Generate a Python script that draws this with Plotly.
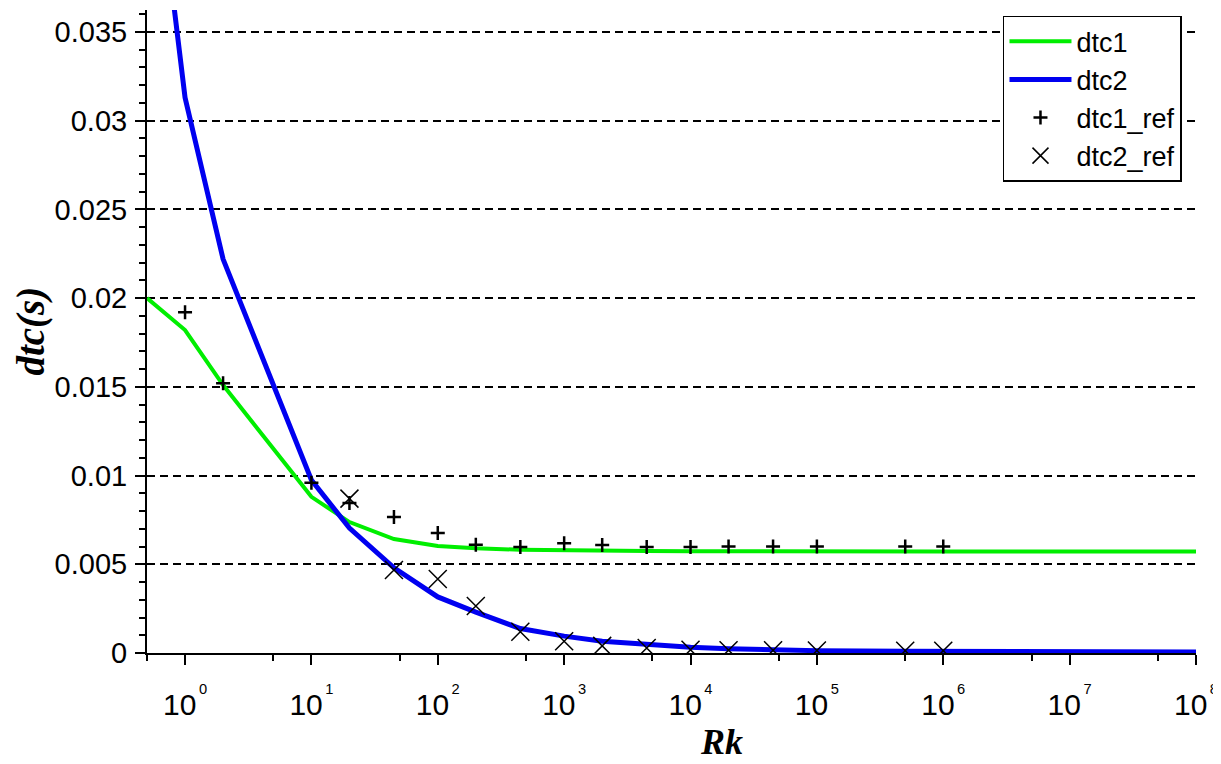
import plotly.graph_objects as go

# ---- data ----
rk_model = [0.5, 1, 2, 10, 20, 45, 100, 200, 450, 1000, 2000, 4500,
            1e4, 2e4, 4.5e4, 1e5, 5e5, 1e6, 1e7, 1e8]
dtc1 = [0.0200, 0.0182, 0.0151, 0.0088, 0.00738, 0.00642, 0.00603, 0.00590,
        0.00582, 0.00578, 0.00576, 0.00575, 0.00574, 0.00573, 0.00573,
        0.00572, 0.00572, 0.00572, 0.00572, 0.00572]
dtc2 = [0.049, 0.0313, 0.0222, 0.00975, 0.00704, 0.0048, 0.00316, 0.0023,
        0.00138, 0.00095, 0.00066, 0.00046, 0.00033, 0.00024, 0.00018,
        0.00013, 0.0001, 0.00009, 0.00007, 0.00006]

rk_ref1 = [1, 2, 10, 20, 45, 100, 200, 450, 1000, 2000, 4500,
           1e4, 2e4, 4.5e4, 1e5, 5e5, 1e6]
dtc1_ref = [0.0192, 0.0152, 0.0096, 0.00845, 0.00767, 0.00676, 0.0061,
            0.00597, 0.00618, 0.00609, 0.00597, 0.00597, 0.006, 0.006,
            0.006, 0.006, 0.006]

rk_ref2 = [20, 45, 100, 200, 450, 1000, 2000, 4500,
           1e4, 2e4, 4.5e4, 1e5, 5e5, 1e6]
dtc2_ref = [0.0087, 0.00468, 0.00417, 0.00265, 0.0012, 0.00066, 0.0004,
            0.00028, 0.00018, 0.00016, 0.00015, 0.00014, 0.00013, 0.00013]

x_tick_vals = [1, 10, 100, 1e3, 1e4, 1e5, 1e6, 1e7, 1e8]
x_tick_exps = ["0", "1", "2", "3", "4", "5", "6", "7", "8"]
x_minor_vals = [0.5, 5, 50, 500, 5e3, 5e4, 5e5, 5e6, 5e7]
y_tick_vals = [0, 0.005, 0.01, 0.015, 0.02, 0.025, 0.03, 0.035]
y_tick_text = ["0", "0.005", "0.01", "0.015", "0.02", "0.025", "0.03", "0.035"]

x_tick_text = ["10\u200a<sup><sup>%s</sup></sup>" % e for e in x_tick_exps]

fig = go.Figure()
fig.add_trace(go.Scatter(x=rk_model, y=dtc1, mode="lines", name="dtc1",
                         line=dict(color="#00ee00", width=4)))
fig.add_trace(go.Scatter(x=rk_model, y=dtc2, mode="lines", name="dtc2",
                         line=dict(color="#0000f0", width=5)))
fig.add_trace(go.Scatter(x=rk_ref1, y=dtc1_ref, mode="markers", name="dtc1_ref",
                         marker=dict(symbol="cross-thin", size=10, color="black",
                                     line=dict(color="black", width=2.5))))
fig.add_trace(go.Scatter(x=rk_ref2, y=dtc2_ref, mode="markers", name="dtc2_ref",
                         marker=dict(symbol="x-thin", size=18, color="black",
                                     line=dict(color="black", width=1.5))))

sans = "Liberation Sans, Arial, sans-serif"
serif = "Liberation Serif, Times New Roman, serif"

# the page body adds an 8px offset; the figure is sized so the plot area
# lands at x 147..1196, y 10..653 of the 1221x764 window
fig.update_layout(
    width=1213, height=756,
    margin=dict(l=139, r=25, t=2, b=111),
    paper_bgcolor="white", plot_bgcolor="white",
    showlegend=True,
    legend=dict(x=0.816, y=0.991, xanchor="left", yanchor="top",
                bgcolor="white", bordercolor="black", borderwidth=1.5,
                font=dict(family=sans, size=27, color="black"),
                itemwidth=62),
    xaxis=dict(
        type="log", range=[-0.30103, 8], automargin=False,
        showline=True, linecolor="black", linewidth=2,
        ticks="outside", ticklen=10, tickwidth=2, tickcolor="black",
        tickmode="array", tickvals=x_tick_vals, ticktext=x_tick_text,
        tickfont=dict(family=sans, size=30, color="black"),
        ticklabelstandoff=14,
        showgrid=False, zeroline=False,
        minor=dict(tickmode="array", tickvals=x_minor_vals, ticks="outside",
                   ticklen=6, tickwidth=2, tickcolor="black", showgrid=False),
    ),
    yaxis=dict(
        range=[0, 0.03624], automargin=False,
        showline=True, linecolor="black", linewidth=2,
        ticks="outside", ticklen=10, tickwidth=2, tickcolor="black",
        tickmode="array", tickvals=y_tick_vals, ticktext=y_tick_text,
        tickfont=dict(family=sans, size=29, color="black"),
        ticklabelstandoff=2,
        showgrid=True, gridcolor="black", gridwidth=2, griddash="8px,5px",
        zeroline=False,
        minor=dict(dtick=0.001, tick0=0, ticks="outside", ticklen=6,
                   tickwidth=2, tickcolor="black", showgrid=False),
    ),
    annotations=[
        dict(text="dtc(s)", xref="paper", yref="paper", x=-0.1115, y=0.5,
             xanchor="center", yanchor="middle", textangle=-90, showarrow=False,
             font=dict(family=serif, size=39, color="black",
                       weight="bold", style="italic")),
        dict(text="Rk", xref="paper", yref="paper", x=0.548, y=-0.139,
             xanchor="center", yanchor="middle", showarrow=False,
             font=dict(family=serif, size=36, color="black",
                       weight="bold", style="italic")),
    ],
)

fig.write_html("out.html")
